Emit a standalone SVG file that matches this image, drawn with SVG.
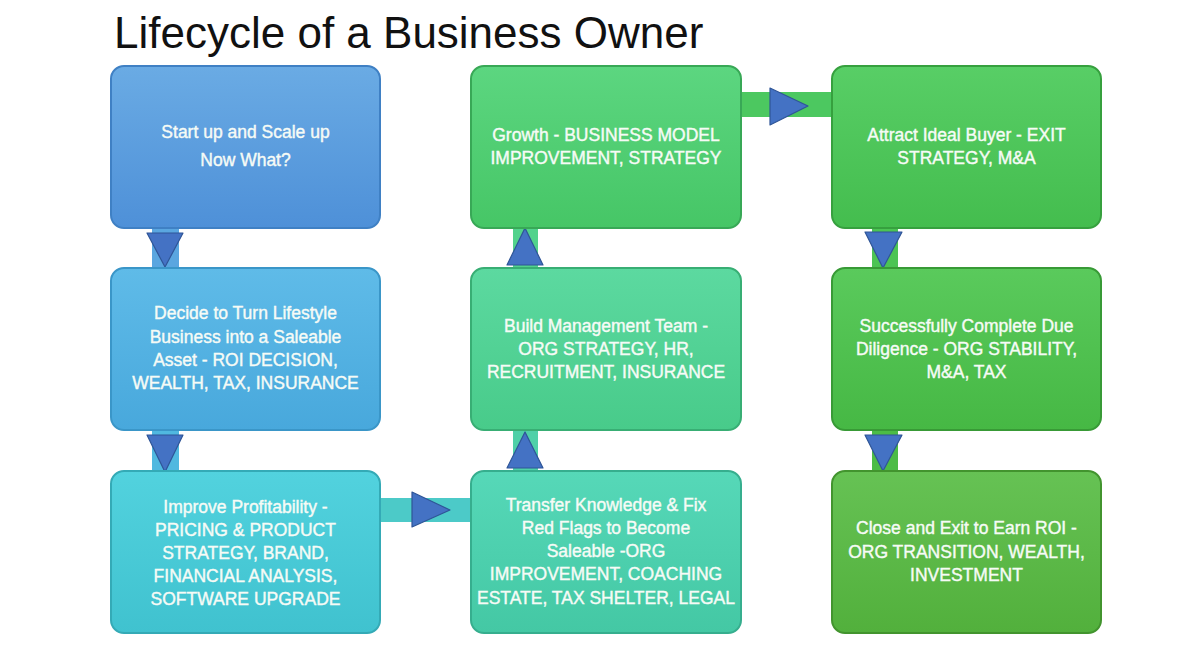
<svg xmlns="http://www.w3.org/2000/svg" width="1200" height="650" viewBox="0 0 1200 650">
<defs>
<linearGradient id="g1" x1="0" y1="0" x2="0" y2="1"><stop offset="0" stop-color="#6aabe4"/><stop offset="1" stop-color="#4e90d8"/></linearGradient>
<linearGradient id="g2" x1="0" y1="0" x2="0" y2="1"><stop offset="0" stop-color="#5fbbe8"/><stop offset="1" stop-color="#48a8dc"/></linearGradient>
<linearGradient id="g3" x1="0" y1="0" x2="0" y2="1"><stop offset="0" stop-color="#52d2de"/><stop offset="1" stop-color="#40c2cf"/></linearGradient>
<linearGradient id="g4" x1="0" y1="0" x2="0" y2="1"><stop offset="0" stop-color="#56d8b8"/><stop offset="1" stop-color="#44c8a4"/></linearGradient>
<linearGradient id="g5" x1="0" y1="0" x2="0" y2="1"><stop offset="0" stop-color="#5cd9a0"/><stop offset="1" stop-color="#48cb8a"/></linearGradient>
<linearGradient id="g6" x1="0" y1="0" x2="0" y2="1"><stop offset="0" stop-color="#5cd680"/><stop offset="1" stop-color="#46c666"/></linearGradient>
<linearGradient id="g7" x1="0" y1="0" x2="0" y2="1"><stop offset="0" stop-color="#58ce66"/><stop offset="1" stop-color="#44bd4e"/></linearGradient>
<linearGradient id="g8" x1="0" y1="0" x2="0" y2="1"><stop offset="0" stop-color="#5aca5c"/><stop offset="1" stop-color="#46b844"/></linearGradient>
<linearGradient id="g9" x1="0" y1="0" x2="0" y2="1"><stop offset="0" stop-color="#66c254"/><stop offset="1" stop-color="#52b03c"/></linearGradient>
</defs>
<style>
.box{stroke-width:2}
.lbl{font-family:"Liberation Sans",Arial,sans-serif;font-size:17.5px;fill:#f6fbf6;stroke:#f6fbf6;stroke-width:0.4;text-anchor:middle}
.title{font-family:"Liberation Sans",Arial,sans-serif;font-size:44px;fill:#111111}
.tri{fill:#4472c4;stroke:#2f5597;stroke-width:1.2;stroke-linejoin:round}
</style>
<rect width="1200" height="650" fill="#ffffff"/>
<text class="title" x="114" y="48">Lifecycle of a Business Owner</text>

<g id="connectors">
  <rect x="152" y="226" width="27" height="44" fill="#5aa6e0"/>
  <polygon class="tri" points="147,233 183,233 165,267"/>
  <rect x="152" y="428" width="27" height="45" fill="#50b8e0"/>
  <polygon class="tri" points="147,435 183,435 165,472"/>
  <rect x="378" y="498" width="95" height="24" fill="#4ccac8"/>
  <polygon class="tri" points="412,492 412,527 450,510"/>
  <rect x="513" y="431" width="25" height="42" fill="#4fd0a8"/>
  <polygon class="tri" points="507,468 543,468 525,432"/>
  <rect x="513" y="226" width="25" height="44" fill="#52d28c"/>
  <polygon class="tri" points="507,265 543,265 525,228"/>
  <rect x="739" y="92" width="95" height="25" fill="#4cc860"/>
  <polygon class="tri" points="770,88 770,125 808,106"/>
  <rect x="872" y="226" width="26" height="44" fill="#4cc454"/>
  <polygon class="tri" points="865,232 902,232 883,268"/>
  <rect x="872" y="428" width="26" height="45" fill="#4cbc46"/>
  <polygon class="tri" points="865,435 902,435 883,471"/>
</g>

<g id="n1">
  <rect class="box" x="111" y="66" width="269" height="162" rx="13" fill="url(#g1)" stroke="#3f80c4"/>
  <text class="lbl" x="245.5" y="138">Start up and Scale up</text>
  <text class="lbl" x="245.5" y="166">Now What?</text>
</g>
<g id="n2">
  <rect class="box" x="111" y="268" width="269" height="162" rx="13" fill="url(#g2)" stroke="#3a96c8"/>
  <text class="lbl" x="245.5" y="319">Decide to Turn Lifestyle</text>
  <text class="lbl" x="245.5" y="343">Business into a Saleable</text>
  <text class="lbl" x="245.5" y="366">Asset - ROI DECISION,</text>
  <text class="lbl" x="245.5" y="389">WEALTH, TAX, INSURANCE</text>
</g>
<g id="n3">
  <rect class="box" x="111" y="471" width="269" height="162" rx="13" fill="url(#g3)" stroke="#34aab6"/>
  <text class="lbl" x="245.5" y="513">Improve Profitability -</text>
  <text class="lbl" x="245.5" y="536">PRICING &amp; PRODUCT</text>
  <text class="lbl" x="245.5" y="559">STRATEGY, BRAND,</text>
  <text class="lbl" x="245.5" y="582">FINANCIAL ANALYSIS,</text>
  <text class="lbl" x="245.5" y="605">SOFTWARE UPGRADE</text>
</g>
<g id="n4">
  <rect class="box" x="471" y="471" width="270" height="162" rx="13" fill="url(#g4)" stroke="#36ae8e"/>
  <text class="lbl" x="606" y="511">Transfer Knowledge &amp; Fix</text>
  <text class="lbl" x="606" y="534">Red Flags to Become</text>
  <text class="lbl" x="606" y="557">Saleable -ORG</text>
  <text class="lbl" x="606" y="580">IMPROVEMENT, COACHING</text>
  <text class="lbl" x="606" y="604">ESTATE, TAX SHELTER, LEGAL</text>
</g>
<g id="n5">
  <rect class="box" x="471" y="268" width="270" height="162" rx="13" fill="url(#g5)" stroke="#38ae74"/>
  <text class="lbl" x="606" y="332">Build Management Team -</text>
  <text class="lbl" x="606" y="355">ORG STRATEGY, HR,</text>
  <text class="lbl" x="606" y="378">RECRUITMENT, INSURANCE</text>
</g>
<g id="n6">
  <rect class="box" x="471" y="66" width="270" height="162" rx="13" fill="url(#g6)" stroke="#38a856"/>
  <text class="lbl" x="606" y="141">Growth - BUSINESS MODEL</text>
  <text class="lbl" x="606" y="164">IMPROVEMENT, STRATEGY</text>
</g>
<g id="n7">
  <rect class="box" x="832" y="66" width="269" height="162" rx="13" fill="url(#g7)" stroke="#36a03e"/>
  <text class="lbl" x="966.5" y="141">Attract Ideal Buyer - EXIT</text>
  <text class="lbl" x="966.5" y="164">STRATEGY, M&amp;A</text>
</g>
<g id="n8">
  <rect class="box" x="832" y="268" width="269" height="162" rx="13" fill="url(#g8)" stroke="#389a36"/>
  <text class="lbl" x="966.5" y="332">Successfully Complete Due</text>
  <text class="lbl" x="966.5" y="355">Diligence - ORG STABILITY,</text>
  <text class="lbl" x="966.5" y="378">M&amp;A, TAX</text>
</g>
<g id="n9">
  <rect class="box" x="832" y="471" width="269" height="162" rx="13" fill="url(#g9)" stroke="#42942e"/>
  <text class="lbl" x="966.5" y="534">Close and Exit to Earn ROI -</text>
  <text class="lbl" x="966.5" y="558">ORG TRANSITION, WEALTH,</text>
  <text class="lbl" x="966.5" y="581">INVESTMENT</text>
</g>
</svg>
